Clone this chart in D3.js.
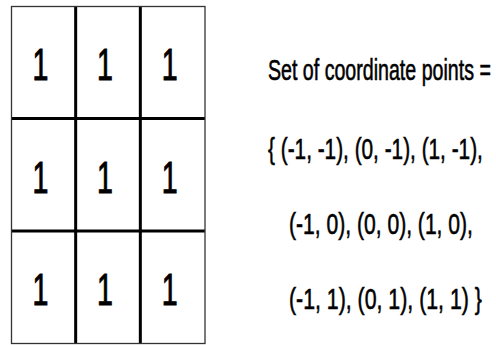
<!DOCTYPE html>
<html><head><meta charset="utf-8">
<script src="https://cdn.jsdelivr.net/npm/d3@7"></script>
<style>html,body{margin:0;padding:0;background:#fff;}svg{display:block;}</style>
</head><body>
<svg id="c" width="496" height="345"></svg>
<script>
// Data
const colIdx = [-1, 0, 1];
const rowIdx = [-1, 0, 1];
const cellValues = [
  [1, 1, 1],
  [1, 1, 1],
  [1, 1, 1]
];
const titleText = "Set of coordinate points =";
const points = [[-1,-1],[0,-1],[1,-1],[-1,0],[0,0],[1,0],[-1,1],[0,1],[1,1]];

const FONT = "'Liberation Sans', Arial, sans-serif";
const svg = d3.select("#c");
const x = d3.scaleBand().domain(colIdx).range([11, 205]);
const y = d3.scaleBand().domain(rowIdx).range([6, 343.5]);

const cells = [];
rowIdx.forEach((r, i) => colIdx.forEach((c, j) => cells.push({r, c, v: cellValues[i][j]})));

// inner grid lines
svg.selectAll("line.v").data(colIdx.slice(1)).join("line")
  .attr("x1", d => x(d)).attr("x2", d => x(d))
  .attr("y1", 6).attr("y2", 343.5)
  .attr("stroke", "#000").attr("stroke-width", 3);
svg.selectAll("line.h").data(rowIdx.slice(1)).join("line")
  .attr("y1", d => y(d)).attr("y2", d => y(d))
  .attr("x1", 11).attr("x2", 205)
  .attr("stroke", "#000").attr("stroke-width", 3);
// outer border
svg.append("rect").attr("x", 11.5).attr("y", 6.5)
  .attr("width", 205 - 11.5).attr("height", 343.5 - 6.5)
  .attr("fill", "none").attr("stroke", "#333").attr("stroke-width", 1.3);

svg.selectAll("text.cell").data(cells).join("text")
  .attr("x", 0).attr("y", 0)
  .attr("text-anchor", "middle")
  .attr("font-family", FONT)
  .attr("font-size", 44)
  .attr("fill", "#000")
  .attr("stroke", "#000").attr("stroke-width", 1)
  .attr("transform", d => {
    const cx = x(d.c) + x.bandwidth() / 2 - 3;
    const cy = y(d.r) + y.bandwidth() / 2 + 18;
    return `translate(${cx},${cy}) scale(0.65,1)`;
  })
  .text(d => d.v);

// right-side text
const fmt = p => `(${p[0]}, ${p[1]})`;
const groups = d3.groups(points, p => p[1]).map(g => g[1]);
const lines = [
  {t: titleText, x: 268, y: 80, w: 223},
  {t: "{  " + groups[0].map(fmt).join(", ") + ",", x: 268, y: 159, w: 215},
  {t: groups[1].map(fmt).join(",  ").replace(/\), \(/g, "), (") + ",", x: 289, y: 234, w: 184},
  {t: groups[2].map(fmt).join(",  ") + " }", x: 289, y: 309, w: 193}
];
svg.selectAll("text.t").data(lines).join("text")
  .attr("x", 0).attr("y", 0)
  .attr("font-family", FONT)
  .attr("font-size", 30)
  .attr("fill", "#000")
  .attr("stroke", "#000").attr("stroke-width", 0.6)
  .text(d => d.t)
  .attr("transform", function(d) {
    const nat = this.getComputedTextLength();
    return `translate(${d.x},${d.y}) scale(${d.w / nat},1)`;
  });
</script>
</body></html>
